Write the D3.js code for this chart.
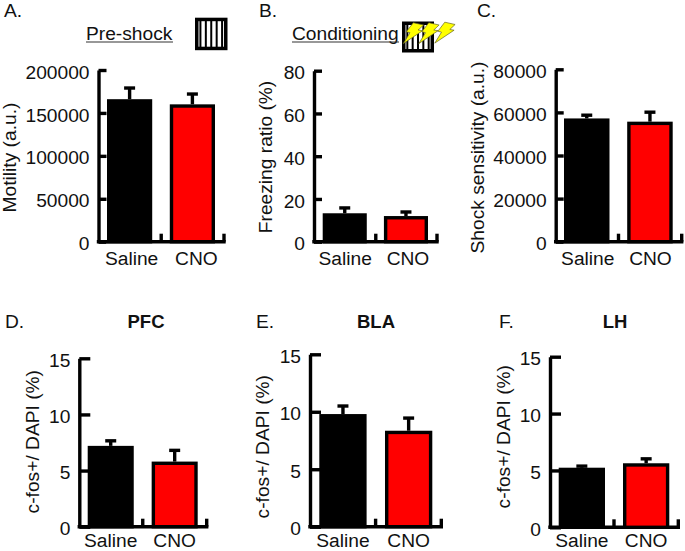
<!DOCTYPE html>
<html>
<head>
<meta charset="utf-8">
<script src="https://cdn.jsdelivr.net/npm/d3@7/dist/d3.min.js"></script>
<style>
html,body{margin:0;padding:0;background:#fff;}
svg{display:block;}
text{font-family:"Liberation Sans",Arial,sans-serif;fill:#111;}
</style>
</head>
<body>
<svg id="chart" width="685" height="551"></svg>
<script>
// ---- data ----
const groups = ["Saline", "CNO"];
const motility = [166000, 160000];
const motilityErr = [13000, 12000];
const freezing = [13.3, 12];
const freezingErr = [2.5, 1.9];
const shock = [57200, 55700];
const shockErr = [1500, 4400];
const pfc = [7.2, 5.8];
const pfcErr = [0.45, 1.0];
const bla = [9.8, 8.35];
const blaErr = [0.7, 1.1];
const lh = [5.24, 5.63];
const lhErr = [0.14, 0.39];
const motilityTicks = [0, 50000, 100000, 150000, 200000];
const freezingTicks = [0, 20, 40, 60, 80];
const shockTicks = [0, 20000, 40000, 60000, 80000];
const fosTicks = [0, 5, 10, 15];
const barColors = ["#000000", "#ff0000"];

// ---- layout ----
const panels = [
  {letter:"A.", lx:4, ly:17, ylabel:"Motility (a.u.)", yx:15.5, yc:157.5, spine:98.5, top:70, base:241.7,
   l:107, r:215, tick:8, ticks:motilityTicks, v:motility, e:motilityErr, labelDx:[2,4], labelY:265},
  {letter:"B.", lx:259, ly:17, ylabel:"Freezing ratio (%)", yx:272, yc:157, spine:314, top:70.7, base:241.7,
   l:322.7, r:428, tick:8, ticks:freezingTicks, v:freezing, e:freezingErr, labelDx:[0.5,2], labelY:265},
  {letter:"C.", lx:477, ly:17, ylabel:"Shock sensitivity (a.u.)", yx:484, yc:157.5, spine:555.7, top:69.3, base:241.7,
   l:564, r:672.7, tick:8, ticks:shockTicks, v:shock, e:shockErr, labelDx:[1,0.5], labelY:265},
  {letter:"D.", lx:5, ly:328, ylabel:"c-fos+/ DAPI (%)", yx:38.5, yc:441.7, spine:79.3, top:358.3, base:526.7,
   l:87.7, r:197.7, tick:11, ticks:fosTicks, v:pfc, e:pfcErr, labelDx:[0,0], title:"PFC", tx:146, labelY:546.8},
  {letter:"E.", lx:256, ly:328, ylabel:"c-fos+/ DAPI (%)", yx:269, yc:446.7, spine:310, top:354.3, base:526.7,
   l:319.3, r:432.3, tick:11, ticks:fosTicks, v:bla, e:blaErr, labelDx:[0,0], title:"BLA", tx:376, labelY:546.8},
  {letter:"F.", lx:499, ly:328, ylabel:"c-fos+/ DAPI (%)", yx:510, yc:436.7, spine:550, top:356.7, base:527.3,
   l:558.7, r:669.3, tick:11, ticks:fosTicks, v:lh, e:lhErr, labelDx:[0,0], title:"LH", tx:615, labelY:546.8}
];

const svg = d3.select("#chart");
const FS = 19.2, SW = 3.4;

panels.forEach(p => {
  const g = svg.append("g");
  const x = d3.scaleBand().domain(groups).range([p.l, p.r]).paddingInner(0.28);
  const y = d3.scaleLinear().domain([0, d3.max(p.ticks)]).range([p.base, p.top]);
  const rows = groups.map((name, i) => ({name, v:p.v[i], e:p.e[i], c:barColors[i], dx:p.labelDx[i]}));

  // letters and titles
  g.append("text").attr("x", p.lx).attr("y", p.ly).attr("font-size", FS).text(p.letter);
  if (p.title) g.append("text").attr("x", p.tx).attr("y", 328).attr("text-anchor", "middle")
    .attr("font-size", 18.5).attr("font-weight", "bold").text(p.title);

  // y axis
  const ya = g.append("g").attr("transform", `translate(${p.spine},0)`)
    .call(d3.axisLeft(y).tickValues(p.ticks).tickSizeInner(-p.tick).tickSizeOuter(0).tickPadding(9).tickFormat(d3.format("d")));
  ya.select(".domain").attr("stroke", "#000").attr("stroke-width", SW);
  ya.selectAll(".tick line").attr("stroke", "#000").attr("stroke-width", SW);
  ya.selectAll(".tick text").attr("font-size", FS).attr("font-family", null).attr("dy", "0.42em");
  ya.attr("font-family", null);

  // y title
  g.append("text").attr("transform", `translate(${p.yx},${p.yc}) rotate(-90)`)
    .attr("text-anchor", "middle").attr("font-size", FS).text(p.ylabel);

  // baseline with Prism-style ticks to the right of each bar
  const tickX = d => x(d) + x.bandwidth() + 9;
  g.append("line").attr("x1", p.spine - SW/2).attr("x2", tickX(groups[1]) + SW/2)
    .attr("y1", p.base).attr("y2", p.base).attr("stroke", "#000").attr("stroke-width", SW);
  g.selectAll(".endtick").data(groups).join("line").attr("class", "endtick")
    .attr("x1", tickX).attr("x2", tickX).attr("y1", p.base).attr("y2", p.base - 8)
    .attr("stroke", "#000").attr("stroke-width", SW);

  // error bars
  g.selectAll(".stem").data(rows).join("line").attr("class", "stem")
    .attr("x1", d => x(d.name) + x.bandwidth()/2).attr("x2", d => x(d.name) + x.bandwidth()/2)
    .attr("y1", d => y(d.v)).attr("y2", d => y(d.v + d.e))
    .attr("stroke", "#000").attr("stroke-width", SW);
  g.selectAll(".cap").data(rows).join("line").attr("class", "cap")
    .attr("x1", d => x(d.name) + x.bandwidth()/2 - 5.5).attr("x2", d => x(d.name) + x.bandwidth()/2 + 5.5)
    .attr("y1", d => y(d.v + d.e)).attr("y2", d => y(d.v + d.e))
    .attr("stroke", "#000").attr("stroke-width", SW);

  // bars
  g.selectAll(".bar").data(rows).join("rect").attr("class", "bar")
    .attr("x", d => x(d.name) + SW/2).attr("width", x.bandwidth() - SW)
    .attr("y", d => y(d.v) + SW/2).attr("height", d => p.base - y(d.v) - SW/2)
    .attr("fill", d => d.c).attr("stroke", "#000").attr("stroke-width", SW);

  // group labels
  g.selectAll(".grp").data(rows).join("text").attr("class", "grp")
    .attr("x", d => x(d.name) + x.bandwidth()/2 + d.dx).attr("y", p.labelY)
    .attr("text-anchor", "middle").attr("font-size", FS).text(d => d.name);
});

// section headers
function header(text, x, x2, boxX, boxY, boxW, boxH) {
  svg.append("text").attr("x", x).attr("y", 40).attr("font-size", FS).text(text);
  svg.append("line").attr("x1", x).attr("x2", x2).attr("y1", 42).attr("y2", 42)
    .attr("stroke", "#333").attr("stroke-width", 1.2);
  svg.append("rect").attr("x", boxX + 1.75).attr("y", boxY + 1.75).attr("width", boxW - 3.5).attr("height", boxH - 3.5)
    .attr("fill", "#fff").attr("stroke", "#000").attr("stroke-width", 3.5);
  svg.selectAll(null).data(d3.range(1, 6)).join("line")
    .attr("x1", i => boxX + i * boxW / 6).attr("x2", i => boxX + i * boxW / 6)
    .attr("y1", boxY + 2).attr("y2", boxY + boxH - 2)
    .attr("stroke", "#000").attr("stroke-width", 2);
}
header("Pre-shock", 86, 173, 195, 17.7, 32.5, 32.5);
header("Conditioning", 292, 399, 402, 21.5, 32, 31);

// lightning bolts
const boltOrigins = [[403, 22], [418.5, 22], [434.5, 21.5]];
const boltShape = d3.line()([[10.3,0.7],[20.6,3],[15.3,8],[19.6,8.7],[0.3,21.6],[7,10.7],[3.4,9.7]]) + "Z";
svg.selectAll(".bolt").data(boltOrigins).join("path").attr("class", "bolt")
  .attr("transform", d => `translate(${d[0]},${d[1]})`)
  .attr("d", boltShape).attr("fill", "#ffff00").attr("stroke", "#666622").attr("stroke-width", 0.7);
</script>
</body>
</html>
